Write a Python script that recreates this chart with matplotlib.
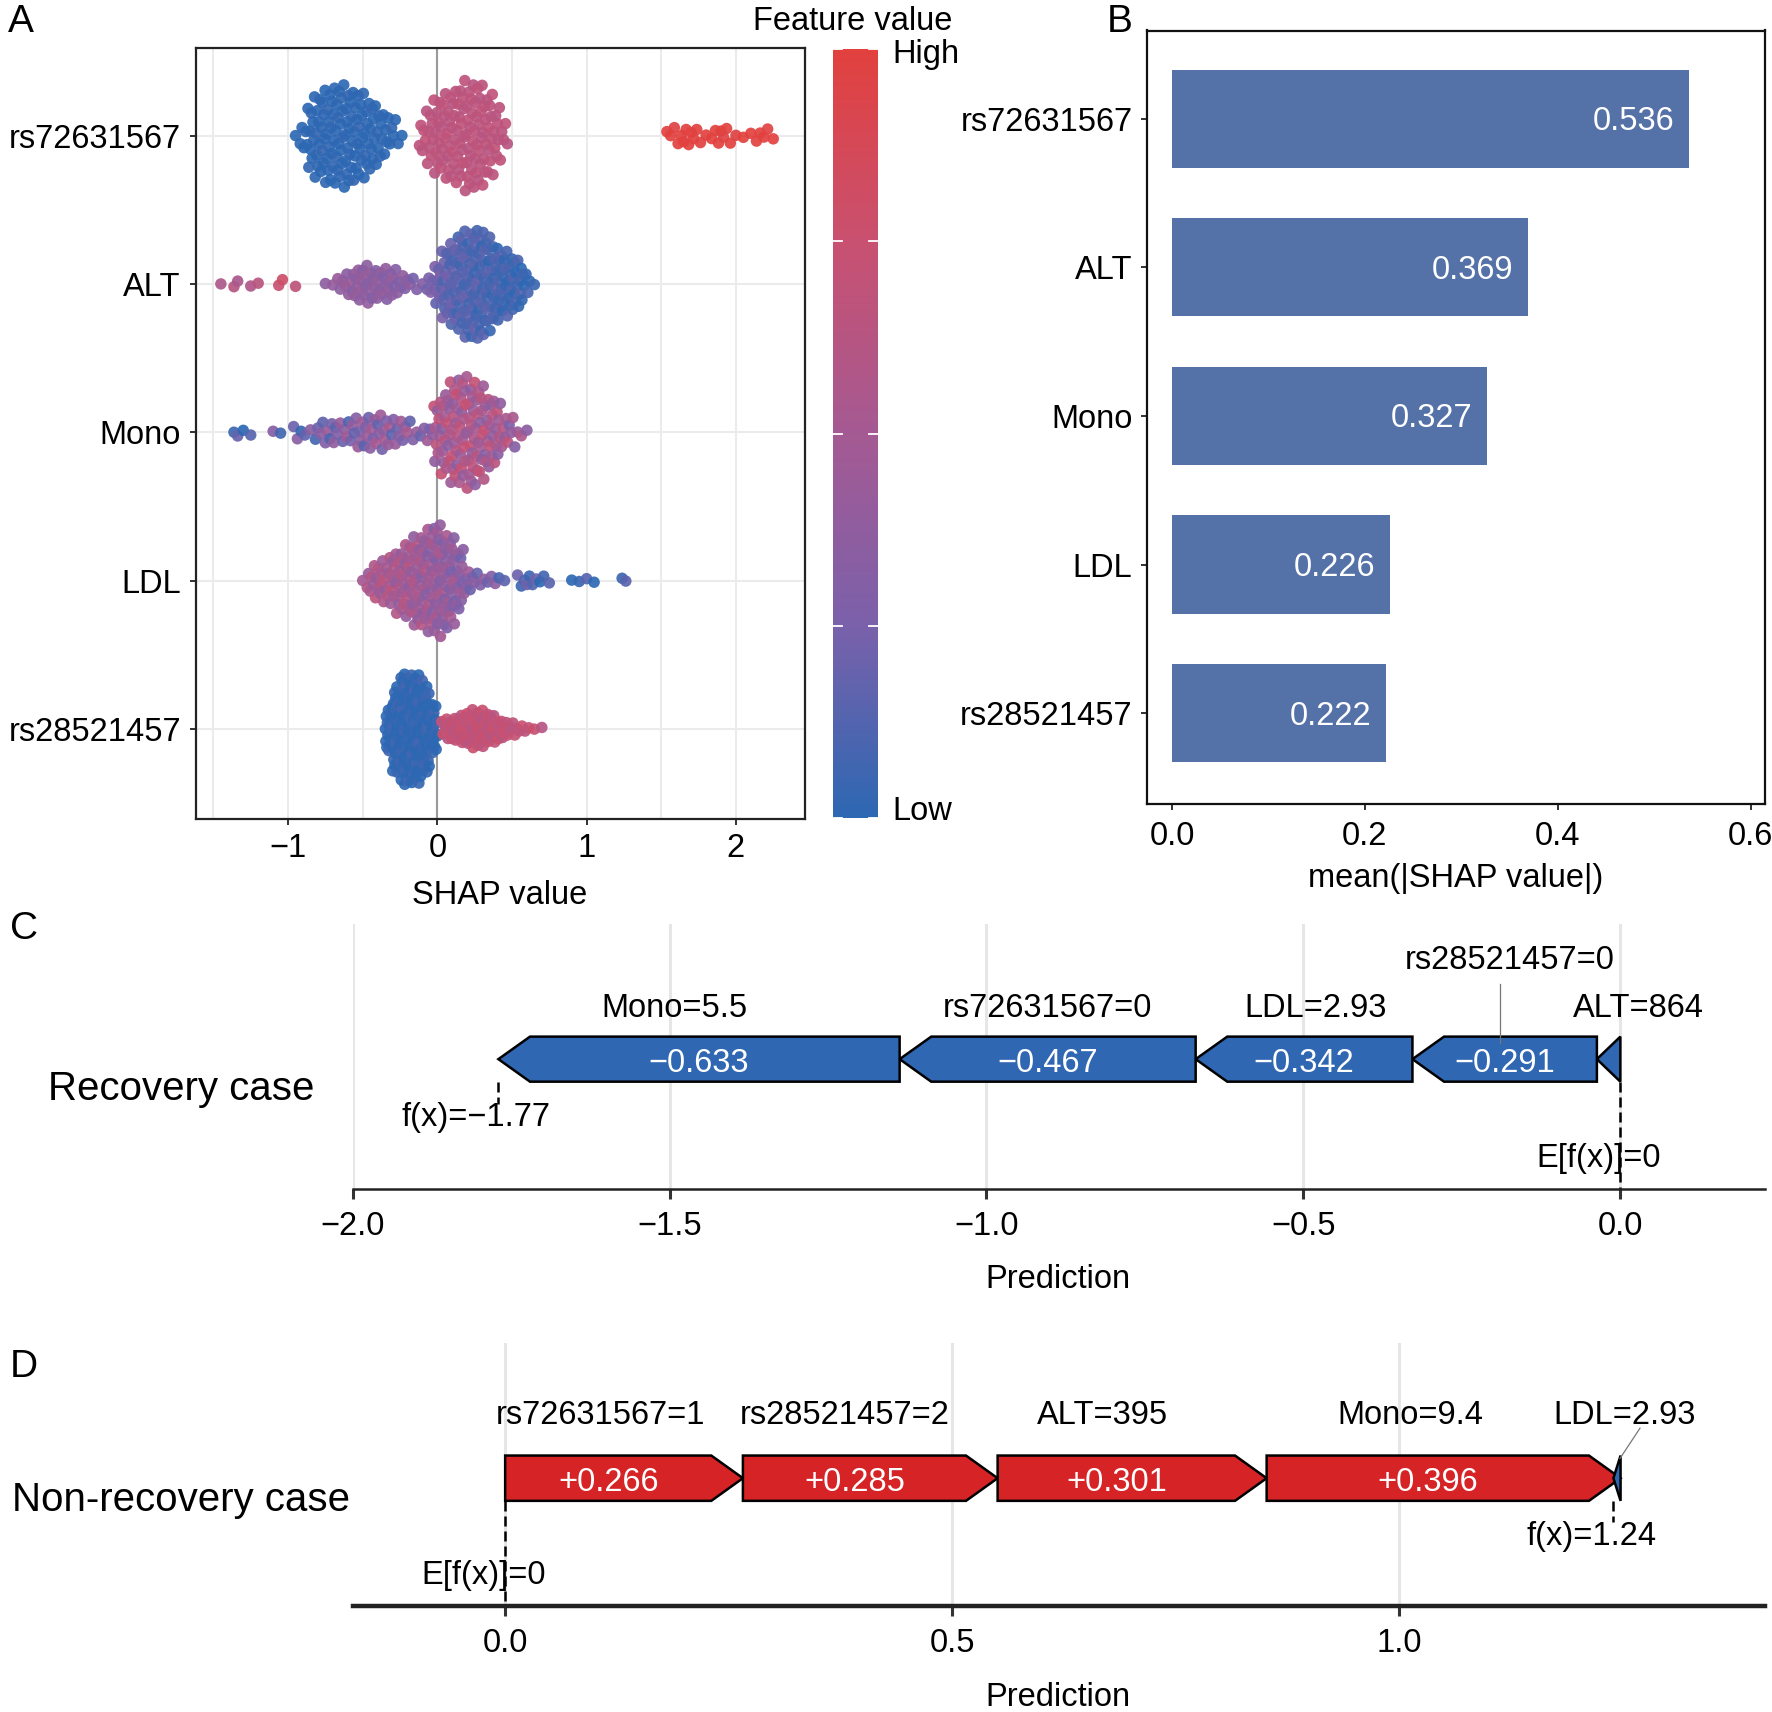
import numpy as np
import matplotlib
matplotlib.use("Agg")
import matplotlib.pyplot as plt
from matplotlib.colors import LinearSegmentedColormap
from matplotlib.patches import Polygon

plt.rcParams['font.family'] = ['Liberation Sans', 'DejaVu Sans']
plt.rcParams['axes.unicode_minus'] = True

W, H = 1772, 1712

# ---------------------------------------------------------------- data
features = ["rs72631567", "ALT", "Mono", "LDL", "rs28521457"]
mean_abs_shap = [0.536, 0.369, 0.327, 0.226, 0.222]

# Panel A beeswarm: SHAP-value bins (width 0.05), samples per bin, mean feature value (0 low .. 1 high)
rs72631567_bins = [-0.95, -0.90, -0.85, -0.80, -0.75, -0.70, -0.65, -0.60, -0.55, -0.50, -0.45, -0.40, -0.35, -0.30, -0.25,
                   -0.10, -0.05, 0.00, 0.05, 0.10, 0.15, 0.20, 0.25, 0.30, 0.35, 0.40, 0.45,
                   1.55, 1.60, 1.65, 1.70, 1.75, 1.80, 1.85, 1.90, 1.95, 2.00, 2.05, 2.10, 2.15, 2.20, 2.25]
rs72631567_counts = [1, 4, 9, 11, 12, 13, 13, 13, 12, 11, 10, 8, 6, 4, 2,
                     5, 8, 10, 11, 12, 13, 14, 14, 13, 11, 8, 4,
                     2, 2, 3, 3, 2, 1, 2, 3, 2, 1, 1, 1, 2, 2, 1]
rs72631567_fval = [0.0] * 15 + [0.66] * 12 + [1.0] * 15

ALT_bins = [-1.45, -1.35, -1.25, -1.20, -1.05, -0.95,
            -0.75, -0.70, -0.65, -0.60, -0.55, -0.50, -0.45, -0.40, -0.35, -0.30, -0.25, -0.20, -0.15, -0.10,
            -0.05, 0.00, 0.05, 0.10, 0.15, 0.20, 0.25, 0.30, 0.35, 0.40, 0.45, 0.50, 0.55, 0.60, 0.65]
ALT_counts = [1, 2, 1, 1, 2, 1,
              1, 1, 3, 4, 6, 7, 7, 6, 6, 6, 4, 3, 2, 1,
              4, 8, 13, 15, 18, 19, 20, 20, 17, 14, 12, 11, 9, 4, 1]
ALT_fval = [0.58, 0.60, 0.58, 0.60, 0.78, 0.62,
            0.42, 0.42, 0.40, 0.38, 0.38, 0.38, 0.36, 0.36, 0.35, 0.34, 0.33, 0.32, 0.30, 0.28,
            0.26, 0.22, 0.18, 0.15, 0.13, 0.12, 0.11, 0.10, 0.09, 0.08, 0.07, 0.06, 0.05, 0.05, 0.04]

Mono_bins = [-1.35, -1.30, -1.25, -1.10, -1.05, -0.95, -0.90, -0.85, -0.80, -0.75, -0.70, -0.65, -0.60,
             -0.55, -0.50, -0.45, -0.40, -0.35, -0.30, -0.25, -0.20, -0.15, -0.10, -0.05,
             0.00, 0.05, 0.10, 0.15, 0.20, 0.25, 0.30, 0.35, 0.40, 0.45, 0.50, 0.55, 0.60]
Mono_counts = [2, 1, 1, 1, 1, 2, 2, 1, 3, 3, 4, 3, 4,
               4, 5, 5, 5, 5, 4, 4, 3, 2, 2, 3,
               9, 12, 14, 15, 15, 15, 13, 11, 9, 5, 4, 2, 1]
Mono_fval = [0.12, 0.12, 0.16, 0.20, 0.18, 0.18, 0.22, 0.26, 0.22, 0.26, 0.28, 0.28, 0.30,
             0.33, 0.33, 0.35, 0.35, 0.35, 0.35, 0.35, 0.35, 0.33, 0.33, 0.33,
             0.54, 0.54, 0.55, 0.55, 0.55, 0.54, 0.53, 0.52, 0.50, 0.48, 0.46, 0.45, 0.45]

LDL_bins = [-0.50, -0.45, -0.40, -0.35, -0.30, -0.25, -0.20, -0.15, -0.10, -0.05, 0.00, 0.05, 0.10, 0.15, 0.20,
            0.25, 0.30, 0.35, 0.40, 0.45, 0.55, 0.60, 0.65, 0.70, 0.75, 0.90, 0.95, 1.00, 1.05, 1.25]
LDL_counts = [1, 5, 7, 8, 10, 12, 14, 16, 17, 19, 20, 18, 16, 12, 5,
              3, 2, 2, 2, 1, 2, 3, 2, 2, 1, 1, 1, 1, 1, 2]
LDL_fval = [0.54, 0.54, 0.54, 0.53, 0.52, 0.51, 0.50, 0.49, 0.46, 0.44, 0.42, 0.40, 0.37, 0.35, 0.33,
            0.28, 0.28, 0.26, 0.23, 0.20, 0.16, 0.13, 0.10, 0.10, 0.08, 0.04, 0.04, 0.04, 0.04, 0.02]

rs28521457_bins = [-0.325, -0.275, -0.225, -0.175, -0.125, -0.075, -0.025,
                   0.05, 0.10, 0.15, 0.20, 0.25, 0.30, 0.35, 0.40, 0.45, 0.50, 0.55, 0.60, 0.65, 0.70]
rs28521457_counts = [15, 27, 34, 34, 33, 27, 16,
                     6, 8, 9, 11, 12, 12, 10, 8, 6, 4, 3, 2, 1, 1]
rs28521457_fval = [0.0] * 7 + [0.70] * 14

swarm_color_spread = {"rs72631567": 0.03, "ALT": 0.07, "Mono": 0.2, "LDL": 0.14, "rs28521457": 0.08}

# Panel C (recovery case) and D (non-recovery case) force plots
recovery_features = ["Mono", "rs72631567", "LDL", "rs28521457", "ALT"]
recovery_values = ["5.5", "0", "2.93", "0", "864"]
recovery_shap = [-0.633, -0.467, -0.342, -0.291, -0.037]
recovery_base = 0.0
recovery_fx = -1.77

nonrec_features = ["rs72631567", "rs28521457", "ALT", "Mono", "LDL"]
nonrec_values = ["1", "2", "395", "9.4", "2.93"]
nonrec_shap = [0.266, 0.285, 0.301, 0.396, -0.008]
nonrec_base = 0.0
nonrec_fx = 1.24

# ---------------------------------------------------------------- style
FS = 23.5
cmap = LinearSegmentedColormap.from_list(
    "fv", [(0.0, "#2D68B3"), (0.25, "#7B61AB"), (0.5, "#A55A93"), (0.75, "#C95171"), (1.0, "#E2413E")])
BAR_COLOR = "#5572A8"
NEG_COLOR = "#2F67B2"
POS_COLOR = "#D62326"


def rect(l, t, r, b):
    return [l / W, 1 - b / H, (r - l) / W, (b - t) / H]


def ftext(x, y, s, **kw):
    kw.setdefault('fontsize', FS)
    kw.setdefault('ha', 'center')
    kw.setdefault('va', 'center')
    fig.text(x / W, 1 - y / H, s, **kw)


def vdc(n, base=2):
    q, denom = 0.0, 1.0
    while n:
        denom *= base
        n, r = divmod(n, base)
        q += r / denom
    return q


def swarm(ax, row, bins, counts, fvals, spread, hw_max=0.38, bw=0.05):
    xs, cs, hws = [], [], []
    cmax = max(counts)
    for b, n, f in zip(bins, counts, fvals):
        for j in range(n):
            xs.append(b - bw / 2 + (j + 0.5) / n * bw)
            cs.append(f)
            hws.append(hw_max * n / cmax)
    xs, cs, hws = np.array(xs), np.array(cs), np.array(hws)
    order = np.argsort(xs, kind='stable')
    xs, cs, hws = xs[order], cs[order], hws[order]
    k = np.arange(1, len(xs) + 1)
    offs = np.array([2 * vdc(i) - 1 for i in k]) * hws
    cols = np.clip(cs + spread * np.array([2 * vdc(i, 3) - 1 for i in k]), 0, 1)
    ax.scatter(xs, row + offs, c=cols, cmap=cmap, vmin=0, vmax=1, s=68,
               linewidths=0, alpha=0.92, zorder=3)


def fmt_minus(s):
    return s.replace("-", "\u2212")


fig = plt.figure(figsize=(W / 100, H / 100), dpi=100)

# ---------------------------------------------------------------- panel A
axA = fig.add_axes(rect(195.5, 47.5, 804.6, 819.3))
rows = {f: 5 - i for i, f in enumerate(features)}
swarm_data = {
    "rs72631567": (rs72631567_bins, rs72631567_counts, rs72631567_fval),
    "ALT": (ALT_bins, ALT_counts, ALT_fval),
    "Mono": (Mono_bins, Mono_counts, Mono_fval),
    "LDL": (LDL_bins, LDL_counts, LDL_fval),
    "rs28521457": (rs28521457_bins, rs28521457_counts, rs28521457_fval),
}
for f in features:
    b, c, v = swarm_data[f]
    swarm(axA, rows[f], b, c, v, swarm_color_spread[f])
axA.set_xlim(-1.62, 2.46)
axA.set_ylim(0.39, 5.594)
axA.set_yticks([rows[f] for f in features])
axA.set_yticklabels(features)
xt = [-1, 0, 1, 2]
axA.set_xticks(xt)
axA.set_xticklabels([fmt_minus(f"{t:g}") for t in xt])
axA.set_xticks([-1.5, -0.5, 0.5, 1.5], minor=True)
axA.grid(True, which='both', color='#EBEBEB', lw=1.5)
axA.set_axisbelow(True)
axA.axvline(0, color='#9A9A9A', lw=1.5, zorder=1)
axA.tick_params(which='minor', length=0)
axA.tick_params(which='major', length=4.5, width=1.3, labelsize=FS, color='#222')
axA.tick_params(axis='x', pad=5.5)
axA.tick_params(axis='y', pad=6)
for s in axA.spines.values():
    s.set_linewidth(1.6)
    s.set_color('#222')
    s.set_zorder(5)

# colour bar
axCB = fig.add_axes(rect(833, 49, 878, 818))
axCB.imshow(np.linspace(0, 1, 256).reshape(-1, 1), cmap=cmap, aspect='auto',
            origin='lower', extent=[0, 1, 0, 1])
axCB.set_axis_off()
for t in [0, 0.25, 0.5, 0.75, 1.0]:
    axCB.plot([0, 0.2], [t, t], color='white', lw=1.3, clip_on=False)
    axCB.plot([0.8, 1.0], [t, t], color='white', lw=1.3, clip_on=False)
axCB.set_xlim(0, 1)
axCB.set_ylim(0, 1)
ftext(853, 21, "Feature value")
ftext(892, 54, "High", ha='left')
ftext(892, 811, "Low", ha='left')
ftext(499.5, 896, "SHAP value")

# ---------------------------------------------------------------- panel B
axB = fig.add_axes(rect(1147, 30.5, 1765, 803.5))
ys = [rows[f] for f in features]
axB.barh(ys, mean_abs_shap, height=0.66, color=BAR_COLOR, zorder=2)
for y, v in zip(ys, mean_abs_shap):
    axB.text(v - 0.0152, y - 0.02, f"{v:.3f}", ha='right', va='center', color='white', fontsize=FS)
axB.set_xlim(-0.026, 0.615)
axB.set_ylim(0.392, 5.593)
axB.set_yticks(ys)
axB.set_yticklabels(features)
bt = [0.0, 0.2, 0.4, 0.6]
axB.set_xticks(bt)
axB.set_xticklabels([f"{t:.1f}" for t in bt])
axB.tick_params(length=4.5, width=1.3, labelsize=FS, color='#222')
axB.tick_params(axis='x', pad=8)
axB.tick_params(axis='y', pad=6)
for s in axB.spines.values():
    s.set_linewidth(1.6)
    s.set_color('#111')
ftext(1455.6, 879, "mean(|SHAP value|)")


# ---------------------------------------------------------------- panels C / D
def force_panel(ax, feats, vals, shap, base, fx, xlim, ticks, yc, hh, label_y, nudge_px,
                leaders, fx_text_y, fx_line_end, spine_lw):
    ax.set_xlim(*xlim)
    ax.set_ylim(0, 1)
    ppu = (1765 - 352.6) / (xlim[1] - xlim[0])
    head = 31.6 / ppu
    pos = sorted([(f, v, s) for f, v, s in zip(feats, vals, shap) if s > 0], key=lambda t: abs(t[2]))
    neg = sorted([(f, v, s) for f, v, s in zip(feats, vals, shap) if s < 0], key=lambda t: abs(t[2]))
    segs = []
    x = base
    for f, v, s in pos:
        a, b = x, x + s
        hx = max(b - head, a)
        pts = [(a, yc + hh), (hx, yc + hh), (b, yc), (hx, yc - hh), (a, yc - hh)]
        segs.append((f, v, s, a, b, pts, POS_COLOR))
        x = b
    for f, v, s in neg:
        a, b = x + s, x
        hx = min(a + head, b)
        pts = [(a, yc), (hx, yc + hh), (b, yc + hh), (b, yc - hh), (hx, yc - hh)]
        segs.append((f, v, s, a, b, pts, NEG_COLOR))
        x = a
    for f, v, s, a, b, pts, col in segs:
        ax.add_patch(Polygon(pts, closed=True, facecolor=col, edgecolor='black', lw=1.8,
                             joinstyle='miter', zorder=3))
        cx = (a + b) / 2
        if abs(s) >= 0.1:
            tx = cx - head / 2 if s > 0 else cx
            ax.text(tx, yc - 0.018, fmt_minus(f"{s:+.3f}"), color='white', ha='center', va='center',
                    fontsize=FS, zorder=4)
        lev = 1 if f in leaders and leaders[f][4] else 0
        ax.text(cx + nudge_px[f] / ppu, label_y[lev], f"{f}={v}", ha='center', va='center',
                fontsize=FS, zorder=4)
        if f in leaders:
            x0, y0, x1, y1, _ = leaders[f]
            ax.plot([cx + x0 / ppu, cx + x1 / ppu], [y0, y1], color='#777777', lw=0.9, zorder=5)
    # base value and prediction markers
    ax.plot([base, base], [yc - hh, 0], color='black', lw=1.8, ls=(0, (4, 2)), zorder=2,
            clip_on=False)
    ax.text(base - 22 / ppu, 0.115, "E[f(x)]=" + fmt_minus(f"{base:g}"), ha='center', va='center',
            fontsize=FS, zorder=4)
    ax.plot([fx, fx], [yc - hh, fx_line_end], color='black', lw=1.8, ls=(0, (4, 2)), zorder=2)
    ax.text(fx - 22 / ppu, fx_text_y, "f(x)=" + fmt_minus(f"{fx:.2f}"), ha='center', va='center',
            fontsize=FS, zorder=4)
    for t in ticks:
        ax.axvline(t, color='#E6E6E6', lw=2.2, zorder=0)
    ax.set_xticks(ticks)
    ax.set_xticklabels([fmt_minus(f"{t:.1f}") for t in ticks])
    ax.tick_params(axis='x', length=7, width=2.2, color='#333333', labelsize=FS, pad=9)
    ax.set_yticks([])
    for k in ['left', 'right', 'top']:
        ax.spines[k].set_visible(False)
    ax.spines['bottom'].set_linewidth(spine_lw)
    ax.spines['bottom'].set_color('#222222')
    ax.patch.set_alpha(0)


axC = fig.add_axes(rect(352.6, 924, 1765, 1189))
force_panel(axC, recovery_features, recovery_values, recovery_shap, recovery_base, recovery_fx,
            (-2.0, 0.2282), [-2.0, -1.5, -1.0, -0.5, 0.0], yc=0.49, hh=0.085,
            label_y=[0.68, 0.862],
            nudge_px={"Mono": -25, "rs72631567": 0, "LDL": 12, "rs28521457": 5, "ALT": 30},
            leaders={"rs28521457": (-5, 0.775, -5, 0.55, True)},
            fx_text_y=0.268, fx_line_end=0.32, spine_lw=1.8)

axD = fig.add_axes(rect(352.6, 1342.6, 1765, 1605.9))
force_panel(axD, nonrec_features, nonrec_values, nonrec_shap, nonrec_base, nonrec_fx,
            (-0.1707, 1.4096), [0.0, 0.5, 1.0], yc=0.485, hh=0.086,
            label_y=[0.725, 0.725],
            nudge_px={"rs72631567": -24, "rs28521457": -26, "ALT": -30, "Mono": -33, "LDL": 8},
            leaders={"LDL": (23, 0.675, 3, 0.56, False)},
            fx_text_y=0.265, fx_line_end=0.32, spine_lw=3.2)

ftext(1058, 1280, "Prediction")
ftext(1058, 1697, "Prediction")
ftext(181, 1089, "Recovery case", fontsize=29)
ftext(181, 1500, "Non-recovery case", fontsize=29)

# panel letters
ftext(21, 22, "A", fontsize=28)
ftext(1120, 22, "B", fontsize=28)
ftext(24, 929, "C", fontsize=28)
ftext(24, 1367, "D", fontsize=28)

fig.savefig("out.png", dpi=100)
